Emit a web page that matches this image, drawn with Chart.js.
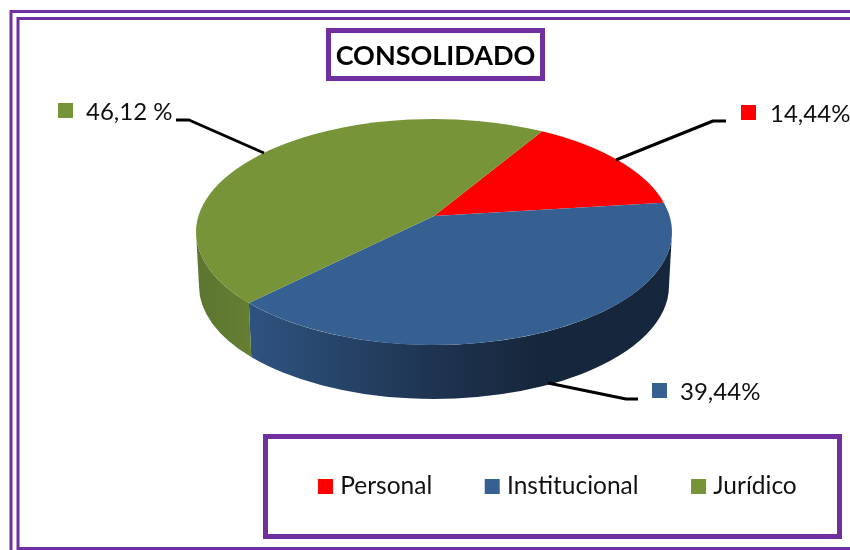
<!DOCTYPE html>
<html><head><meta charset="utf-8">
<style>html,body{margin:0;padding:0;background:#fff}#w{width:850px;height:550px}</style>
<script src="https://cdn.jsdelivr.net/npm/chart.js@4"></script>
</head><body><div id="w"><canvas id="c" width="850" height="550"></canvas></div>
<script>
const categories = ['Personal','Institucional','Jurídico'];
const seriesValues = [14.44,39.44,46.12];
const valueLabels = ['14,44%','39,44%','46,12 %'];
const titleText = 'CONSOLIDADO';
const sliceColors = ['#ff0000','#376092','#779439'];

const PURPLE='#7030a0';
const G={cx:434,cy:232,rx:238,ry:113,b:-0.142,depth:54};
// projective map of the library's circular arc angle onto the tilted disc
function mapAngle(t){
  const s=Math.sin(t),c=Math.cos(t),b=G.b,d=1+b*s;
  return Math.atan2((s+b)/d,c*Math.sqrt(1-b*b)/d);
}
function unwrap(a,ref){while(a<ref)a+=2*Math.PI;while(a>ref+2*Math.PI)a-=2*Math.PI;return a;}
function sideGrad(ctx,stops){
  const g=ctx.createLinearGradient(G.cx-G.rx,0,G.cx+G.rx,0);
  stops.forEach(s=>g.addColorStop(s[0],s[1]));return g;
}
const piePlugin={id:'pie3d',
  beforeDatasetDraw(chart,args){
    const ctx=chart.ctx,arcs=chart.getDatasetMeta(0).data;
    const sideStyles=[
      sideGrad(ctx,[[0,'#a00'],[1,'#a00']]),
      sideGrad(ctx,[[0,'#37608f'],[0.11,'#2f5380'],[0.5,'#1e3450'],[0.72,'#16263c'],[1,'#16263c']]),
      sideGrad(ctx,[[0,'#5c7530'],[0.12,'#657f33'],[1,'#657f33']])
    ];
    ctx.save();
    arcs.forEach((arc,i)=>{
      let a0=mapAngle(arc.startAngle);let a1=unwrap(mapAngle(arc.endAngle),a0);
      const segs=[[a0,a1],[a0-2*Math.PI,a1-2*Math.PI]];
      segs.forEach(([s,e])=>{
        const lo=Math.max(s,0),hi=Math.min(e,Math.PI);
        if(hi>lo){
          ctx.beginPath();
          ctx.ellipse(G.cx,G.cy,G.rx,G.ry,0,lo,hi);
          ctx.ellipse(G.cx,G.cy+G.depth,G.rx-3,G.ry,0,hi,lo,true);
          ctx.closePath();ctx.fillStyle=sideStyles[i];ctx.fill();
        }
      });
    });
    const ay=G.cy+G.b*G.ry;
    arcs.forEach((arc,i)=>{
      let a0=mapAngle(arc.startAngle);let a1=unwrap(mapAngle(arc.endAngle),a0);
      ctx.beginPath();ctx.moveTo(G.cx,ay);
      ctx.ellipse(G.cx,G.cy,G.rx,G.ry,0,a0,a1);
      ctx.closePath();ctx.fillStyle=arc.options.backgroundColor;ctx.fill();
    });
    ctx.restore();
    return false;
  }
};
const deco={id:'deco',
  beforeDraw(chart){
    const ctx=chart.ctx;
    ctx.save();ctx.strokeStyle=PURPLE;
    ctx.lineWidth=3;
    ctx.beginPath();ctx.moveTo(11,560);ctx.lineTo(11,11.5);ctx.lineTo(860,11.5);ctx.stroke();
    ctx.beginPath();ctx.moveTo(860,548.5);ctx.lineTo(18,548.5);ctx.lineTo(18,18.5);ctx.lineTo(860,18.5);ctx.stroke();
    ctx.lineWidth=5;ctx.strokeRect(328.5,30.5,214,48);
    ctx.strokeRect(265.5,436.5,574,100);
    ctx.restore();
  },
  afterDatasetsDraw(chart){
    const ctx=chart.ctx;
    ctx.save();ctx.strokeStyle='#000';ctx.lineWidth=3;ctx.lineJoin='round';
    [[[726,121],[713,121],[616,160]],[[638,399],[626,399],[548,383]],[[176,120],[189,120],[264,153]]].forEach(pts=>{
      ctx.beginPath();pts.forEach((p,i)=>i?ctx.lineTo(p[0],p[1]):ctx.moveTo(p[0],p[1]));ctx.stroke();
    });
    const spots=[[741,105,770],[652,383,680],[58,103,86]];
    ctx.font='24px Lato';ctx.textBaseline='alphabetic';
    spots.forEach((s,i)=>{
      ctx.fillStyle=sliceColors[i];ctx.fillRect(s[0],s[1],15,15);
      ctx.fillStyle='#111';ctx.fillText(valueLabels[i],s[2],s[1]+17);
    });
    ctx.restore();
  },
  afterLayout(chart){
    const l=chart.legend;
    l.left=265.5;l.right=900;l.width=634.5;l.top=416.75;l.bottom=510;l.height=93.25;
  }
};
new Chart(document.getElementById('c'),{
  type:'pie',
  data:{labels:categories,datasets:[{data:seriesValues,backgroundColor:sliceColors,borderWidth:0}]},
  options:{responsive:false,animation:false,rotation:31,
    layout:{padding:{left:21,right:0,top:0,bottom:0}},
    plugins:{
      tooltip:{enabled:false},
      title:{display:true,text:titleText,color:'#000',font:{family:'Lato',size:27,weight:'bold'},padding:{top:40,bottom:0}},
      legend:{position:'bottom',align:'start',labels:{font:{family:'Lato',size:24.5},color:'#111',boxWidth:5,boxHeight:5,padding:57.5,
        generateLabels(chart){
          return Chart.overrides.pie.plugins.legend.labels.generateLabels(chart).map(it=>({...it,strokeStyle:it.fillStyle,lineWidth:10}));
        }}}
    }
  },
  plugins:[piePlugin,deco]
});
</script></body></html>
